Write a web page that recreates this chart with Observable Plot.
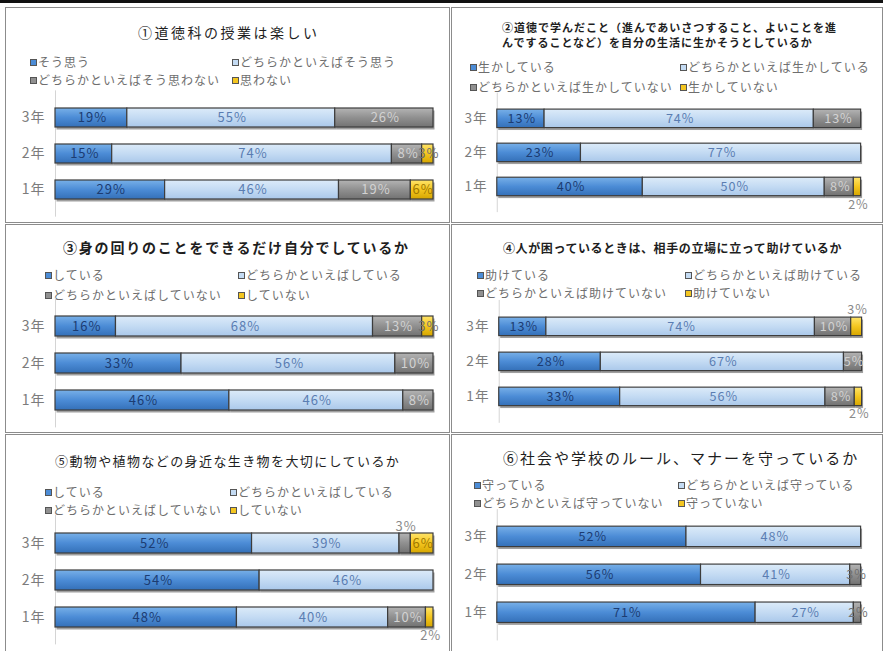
<!DOCTYPE html>
<html><head><meta charset="utf-8">
<script src="https://cdn.jsdelivr.net/npm/d3@7"></script>
<script src="https://cdn.jsdelivr.net/npm/@observablehq/plot@0.6"></script>
<style>
body{margin:0;background:#fff;font-family:"Noto Sans CJK JP",sans-serif;}
#root{position:relative;width:883px;height:651px;overflow:hidden;background:#fff}
.topbar{position:absolute;left:0;top:0;width:883px;height:3px;background:#111}
.panel{position:absolute;border:1.5px solid #8c8c8c;box-sizing:border-box;background:#fff}
.title{position:absolute;color:#1e1e1e;white-space:nowrap;line-height:15px;transform:translateY(-50%)}
.item{position:absolute;color:#6e6e6e;font-size:12px;letter-spacing:1px;white-space:nowrap;transform:translateY(-50%);line-height:14px}
.sw{display:inline-block;width:5px;height:5px;border:1px solid #555;margin-right:1px;vertical-align:1px}
.chart{position:absolute}
</style></head>
<body><div id="root"><div class="topbar"></div></div>
<script>
// ---------- data ----------
const years = ["3年", "2年", "1年"];

const q1Title = ["①道徳科の授業は楽しい"];
const q1Legend = ["そう思う", "どちらかといえばそう思う", "どちらかといえばそう思わない", "思わない"];
const q1Values = [[19, 55, 26, 0], [15, 74, 8, 3], [29, 46, 19, 6]];

const q2Title = ["②道徳で学んだこと（進んであいさつすること、よいことを進", "んですることなど）を自分の生活に生かそうとしているか"];
const q2Legend = ["生かしている", "どちらかといえば生かしている", "どちらかといえば生かしていない", "生かしていない"];
const q2Values = [[13, 74, 13, 0], [23, 77, 0, 0], [40, 50, 8, 2]];

const q3Title = ["③身の回りのことをできるだけ自分でしているか"];
const q3Legend = ["している", "どちらかといえばしている", "どちらかといえばしていない", "していない"];
const q3Values = [[16, 68, 13, 3], [33, 56, 10, 0], [46, 46, 8, 0]];

const q4Title = ["④人が困っているときは、相手の立場に立って助けているか"];
const q4Legend = ["助けている", "どちらかといえば助けている", "どちらかといえば助けていない", "助けていない"];
const q4Values = [[13, 74, 10, 3], [28, 67, 5, 0], [33, 56, 8, 2]];

const q5Title = ["⑤動物や植物などの身近な生き物を大切にしているか"];
const q5Legend = ["している", "どちらかといえばしている", "どちらかといえばしていない", "していない"];
const q5Values = [[52, 39, 3, 6], [54, 46, 0, 0], [48, 40, 10, 2]];

const q6Title = ["⑥社会や学校のルール、マナーを守っているか"];
const q6Legend = ["守っている", "どちらかといえば守っている", "どちらかといえば守っていない", "守っていない"];
const q6Values = [[52, 48, 0, 0], [56, 41, 3, 0], [71, 27, 2, 0]];

// ---------- styles / layout ----------
const gradients = [
  ["gS1", "#78b0e8", "#4c8cd6", "#3470b8"],
  ["gS2", "#dcebf9", "#c4dbf3", "#aac8ea"],
  ["gS3", "#b4b4b4", "#909090", "#727272"],
  ["gS4", "#ffe46a", "#f4c620", "#d6a600"]
];
const swatchColors = ["#4c8cd6", "#c4dbf3", "#909090", "#f4c620"];
const labelColors = ["#1c3c72", "#5a7db2", "#d2d2d2", "#a07800"];
const smallLabelColor = "#707070";

const panels = [
  {title: q1Title, legend: q1Legend, values: q1Values,
   box: [5, 7, 445, 216], t: {x: 138, y: 32, size: 14, ls: 2.5, bold: false},
   lg: {x: 30, x2: 232, y: 62, y2: 80}, bars: {x0: 55, x1: 433, c: [117, 153, 190]}, place: {}},
  {title: q2Title, legend: q2Legend, values: q2Values,
   box: [451, 7, 432, 216], t: {x: 502, y: 27, size: 11, ls: 1, bold: true},
   lg: {x: 470, x2: 680, y: 67, y2: 87}, bars: {x0: 498, x1: 872, c: [119, 154, 190]}, place: {"1年-3": "below"}},
  {title: q3Title, legend: q3Legend, values: q3Values,
   box: [5, 224, 445, 209], t: {x: 63, y: 247, size: 14, ls: 1.8, bold: true},
   lg: {x: 45, x2: 238, y: 275, y2: 295}, bars: {x0: 55, x1: 433, c: [325, 362, 400]}, place: {}},
  {title: q4Title, legend: q4Legend, values: q4Values,
   box: [451, 224, 432, 209], t: {x: 503, y: 247, size: 12, ls: 0.6, bold: true},
   lg: {x: 477, x2: 685, y: 275, y2: 293}, bars: {x0: 500, x1: 873, c: [327, 363, 400]}, place: {"3年-3": "above", "1年-3": "below"}},
  {title: q5Title, legend: q5Legend, values: q5Values,
   box: [5, 434, 445, 220], t: {x: 55, y: 460, size: 13, ls: 1.4, bold: false},
   lg: {x: 45, x2: 230, y: 492, y2: 510}, bars: {x0: 55, x1: 433, c: [542, 579, 617]}, place: {"3年-2": "above", "1年-3": "below"}},
  {title: q6Title, legend: q6Legend, values: q6Values,
   box: [451, 434, 432, 220], t: {x: 503, y: 457, size: 15, ls: 2, bold: false},
   lg: {x: 474, x2: 678, y: 485, y2: 503}, bars: {x0: 498, x1: 872, c: [538, 577, 616]}, place: {}}
];

const root = document.getElementById("root");

// gradient defs shared by all charts
const defs = d3.select("body").append("svg").attr("width", 0).attr("height", 0)
  .style("position", "absolute").style("left", 0).style("top", 0).append("defs");
gradients.forEach(([id, a, b, c]) => {
  const g = defs.append("linearGradient").attr("id", id).attr("x1", 0).attr("y1", 0).attr("x2", 0).attr("y2", 1);
  g.append("stop").attr("offset", "0%").attr("stop-color", a);
  g.append("stop").attr("offset", "50%").attr("stop-color", b);
  g.append("stop").attr("offset", "100%").attr("stop-color", c);
});

function el(tag, cls, parent) {
  const e = document.createElement(tag);
  if (cls) e.className = cls;
  parent.appendChild(e);
  return e;
}

panels.forEach(P => {
  const [bx, by, bw, bh] = P.box;
  const box = el("div", "panel", root);
  Object.assign(box.style, {left: bx + "px", top: by + "px", width: bw + "px", height: bh + "px"});

  // title
  P.title.forEach((line, i) => {
    const t = el("div", "title", root);
    t.textContent = line;
    Object.assign(t.style, {left: P.t.x + "px", top: (P.t.y + i * 15) + "px", fontSize: P.t.size + "px",
      letterSpacing: P.t.ls + "px", fontWeight: P.t.bold ? "bold" : "normal"});
  });

  // legend (2 columns)
  const pos = [[P.lg.x, P.lg.y], [P.lg.x2, P.lg.y], [P.lg.x, P.lg.y2], [P.lg.x2, P.lg.y2]];
  P.legend.forEach((name, j) => {
    const it = el("div", "item", root);
    Object.assign(it.style, {left: pos[j][0] + "px", top: pos[j][1] + "px"});
    const sw = el("span", "sw", it);
    sw.style.background = swatchColors[j];
    const tx = el("span", null, it);
    tx.textContent = name;
  });

  // bars
  const rows = [];
  years.forEach((yr, i) => P.values[i].forEach((v, j) => rows.push({year: yr, series: j, value: v, key: yr + "-" + j})));
  const L = P.bars;
  const s = (L.c[2] - L.c[0]) / 2, p = 0.46;
  const svgLeft = bx + 2, svgRight = bx + bw + 12;
  const svgTop = L.c[0] - 42;
  const yStart = L.c[0] - (p * s + (1 - p) * s / 2);
  const rangeLen = s * (3 + p);
  const mt = yStart - svgTop;
  const height = Math.round(mt + rangeLen + 30);
  const mb = height - mt - rangeLen;
  const width = svgRight - svgLeft;
  const stackOpts = extra => Plot.stackX(Object.assign({offset: "normalize", x: "value", y: "year", z: "series"}, extra));
  // label text chosen after stacking so each label sits at its own segment's midpoint
  const labelFor = where => d => (d.value > 0 && (P.place[d.key] || "inside") === where) ? d.value + "%" : "";

  const chart = Plot.plot({
    width, height,
    marginLeft: L.x0 - svgLeft, marginRight: svgRight - L.x1, marginTop: mt, marginBottom: mb,
    x: {domain: [0, 1], axis: null},
    y: {domain: years, padding: p, tickSize: 0, tickPadding: 10, label: null},
    color: {type: "identity"},
    style: {fontFamily: '"Noto Sans CJK JP", sans-serif', fontSize: "14px", color: "#7c7c7c",
      background: "transparent", overflow: "visible", letterSpacing: "1px"},
    marks: [
      Plot.ruleX([0], {stroke: "#d4d4d4"}),
      Plot.barX(rows, stackOpts({fill: "#505050", fillOpacity: 0.55, dx: 1.5, dy: 2.5})),
      Plot.barX(rows, stackOpts({fill: d => "url(#" + gradients[d.series][0] + ")", stroke: "#3c3c3c", strokeWidth: 1.2})),
      Plot.text(rows, stackOpts({text: labelFor("inside"),
        fill: d => d.value < 5 ? smallLabelColor : labelColors[d.series], fontSize: 13, dx: 1})),
      Plot.text(rows, stackOpts({text: labelFor("above"), fill: "#8a8a8a", fontSize: 13, dy: -17, dx: 1})),
      Plot.text(rows, stackOpts({text: labelFor("below"), fill: "#8a8a8a", fontSize: 13, dy: 18, dx: 1}))
    ]
  });
  const holder = el("div", "chart", root);
  Object.assign(holder.style, {left: svgLeft + "px", top: svgTop + "px"});
  holder.appendChild(chart);
});
</script>
</body></html>
